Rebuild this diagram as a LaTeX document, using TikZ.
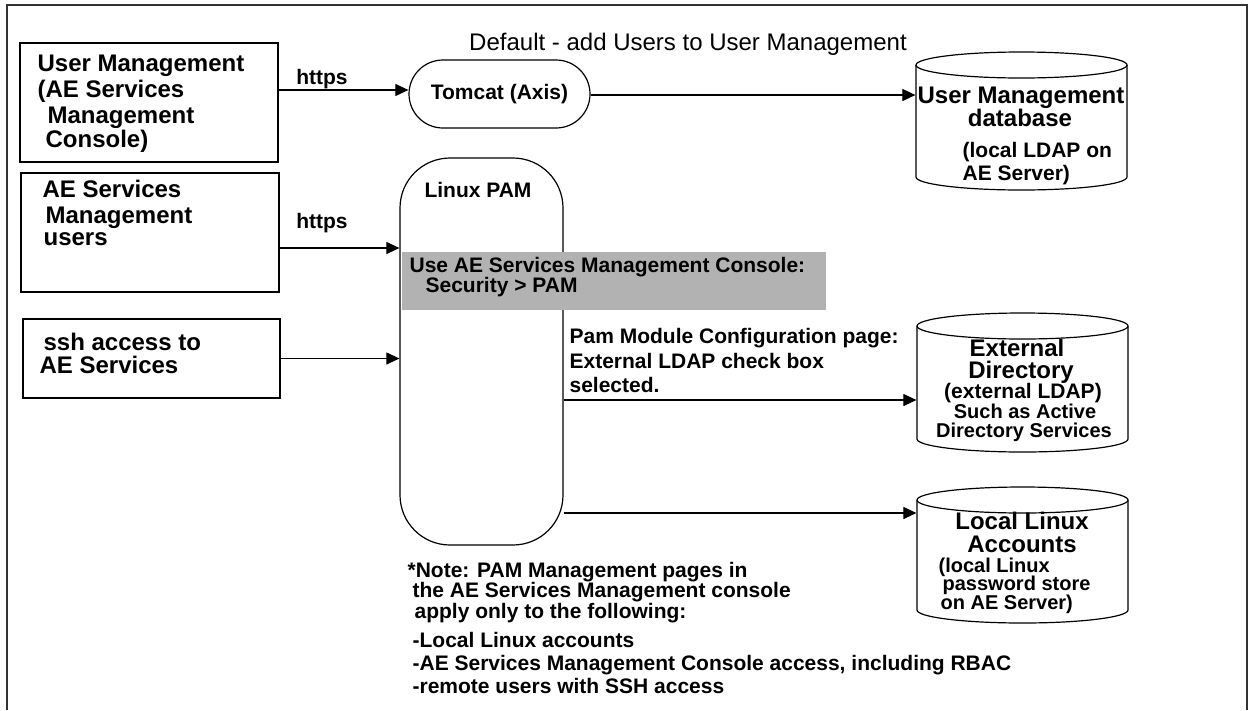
\documentclass[tikz,border=0pt]{standalone}
\usepackage{fontspec}
\setmainfont{Liberation Sans}
\usetikzlibrary{arrows.meta,calc}
\newcommand{\dbcyl}[5]{%
  \pgfmathsetmacro\cyx{(#2+#3)/2}%
  \pgfmathsetmacro\cyr{(#3-#2)/2}%
  \pgfmathsetmacro\cyy{(#4+#5)/2}%
  \pgfmathsetmacro\cyw{#3-#2}%
  \pgfmathsetmacro\cyh{#5-#4}%
  \draw (#2,#4+13) -- (#2,#5-13) arc[start angle=180,end angle=0,x radius=\cyr,y radius=13] -- (#3,#4+13);
  \draw (\cyx,#4+13) ellipse[x radius=\cyr,y radius=13];
  \node[inner sep=0pt,minimum width=\cyw pt,minimum height=\cyh pt] (#1) at (\cyx,\cyy) {};
}
\begin{document}
\begin{tikzpicture}[x=1pt,y=-1pt,
  line width=1.2pt,
  boxs/.style={draw, rectangle, inner sep=0pt},
  big/.style={font=\bfseries\fontsize{24}{26}\selectfont, inner sep=0pt},
  med/.style={font=\bfseries\fontsize{21}{23}\selectfont, inner sep=0pt},
  sml/.style={font=\bfseries\fontsize{20}{22}\selectfont, inner sep=0pt},
  reg/.style={font=\fontsize{24}{26}\selectfont, inner sep=0pt},
  bw/.style={anchor=base west},
  bc/.style={anchor=base},
  arr/.style={-{Triangle[length=13pt,width=12pt]}, line width=1.1pt},
]
\useasboundingbox (0,0) rectangle (1249,710);
\draw[line width=1.6pt, draw=black!80] (7,710) -- (7,5) -- (1247,5) -- (1247,710);

% boxes
\node[boxs, minimum width=258pt, minimum height=119pt] (b1) at (149,102.5) {};
\node[boxs, minimum width=258pt, minimum height=119pt] (b2) at (150,232.5) {};
\node[boxs, minimum width=257pt, minimum height=79pt] (b3) at (151.5,358.5) {};
\node[draw, rounded corners=34pt, minimum width=181pt, minimum height=68pt, inner sep=0pt] (tomcat) at (499.5,94) {};
\node[draw, rounded corners=50pt, minimum width=163pt, minimum height=387pt, inner sep=0pt] (pam) at (481.5,351.5) {};
\node[fill=black!30, minimum width=424pt, minimum height=58pt, inner sep=0pt] (gray) at (614,281) {};

% cylinders
\dbcyl{c1}{916}{1127}{52}{190}
\dbcyl{c2}{917}{1128}{313}{452}
\dbcyl{c3}{917}{1128}{487}{623}

% levels
\coordinate (ya) at (0,90);
\coordinate (yb) at (0,95);
\coordinate (yc) at (0,248);
\coordinate (yd) at (0,400);
\coordinate (ye) at (0,513);

% connectors
\draw[arr] (b1.east |- ya) -- (tomcat.west |- ya);
\draw[arr] (tomcat.east |- yb) -- (c1.west |- yb);
\draw[arr] (b2.east |- yc) -- (pam.west |- yc);
\draw[arr] (b3.east) -- (pam.west |- b3.east);
\draw[arr] (pam.east |- yd) -- (c2.west |- yd);
\draw[arr] (pam.east |- ye) -- (c3.west |- ye);

% texts
\node[reg, bc] (title) at (688,50) {Default - add Users to User Management};
\node[med, bc] (h1) at (322,84) {https};
\node[med, bc] (h2) at (322,228) {https};
\node[med] (tt) at (tomcat.center) {Tomcat (Axis)};
\node[med, bc] (tp) at (478,197) {Linux PAM};

\node[big, bw] (t1) at (37,71) {User Management};
\node[big, bw] (t2) at (37,97) {(AE Services};
\node[big, bw] (t3) at (47,123) {Management};
\node[big, bw] (t4) at (45,147) {Console)};
\node[big, bw] (t5) at (42,197) {AE Services};
\node[big, bw] (t6) at (45,223) {Management};
\node[big, bw] (t7) at (43,245) {users};
\node[big, bw] (t8) at (43,350) {ssh access to};
\node[big, bw] (t9) at (39,373) {AE Services};

\node[med, bw] (g1) at (409,272) {Use AE Services Management Console:};
\node[med, bw] (g2) at (425,292) {Security > PAM};

\node[med, bw] (p1) at (569,343) {Pam Module Configuration page:};
\node[med, bw] (p2) at (569,368) {External LDAP check box};
\node[med, bw] (p3) at (569,392) {selected.};

\node[big, bc] (d1) at (1021,103) {User Management};
\node[big, bc] (d2) at (1020,126) {database};
\node[med, bw] (d3) at (962,157) {(local LDAP on};
\node[med, bw] (d4) at (962,180) {AE Server)};

\node[big, bc] (e1) at (1017,356) {External};
\node[big, bc] (e2) at (1021,378) {Directory};
\node[med, bc] (e3) at (1023,398) {(external LDAP)};
\node[sml, bc] (e4) at (1025,418) {Such as Active};
\node[sml, bc] (e5) at (1024,437) {Directory Services};

\node[big, bc] (l1) at (1022,529) {Local Linux};
\node[big, bc] (l2) at (1022,552) {Accounts};
\node[sml, bw] (l3) at (938,572) {(local Linux};
\node[sml, bw] (l4) at (942,590) {password store};
\node[sml, bw] (l5) at (940,609) {on AE Server)};

\node[med, bw] (n1) at (407,577) {*Note: PAM Management pages in};
\node[med, bw] (n2) at (412,597) {the AE Services Management console};
\node[med, bw] (n3) at (414,618) {apply only to the following:};
\node[med, bw] (n4) at (412,647) {-Local Linux accounts};
\node[med, bw] (n5) at (412,670) {-AE Services Management Console access, including RBAC};
\node[med, bw] (n6) at (412,693) {-remote users with SSH access};
\end{tikzpicture}
\end{document}
